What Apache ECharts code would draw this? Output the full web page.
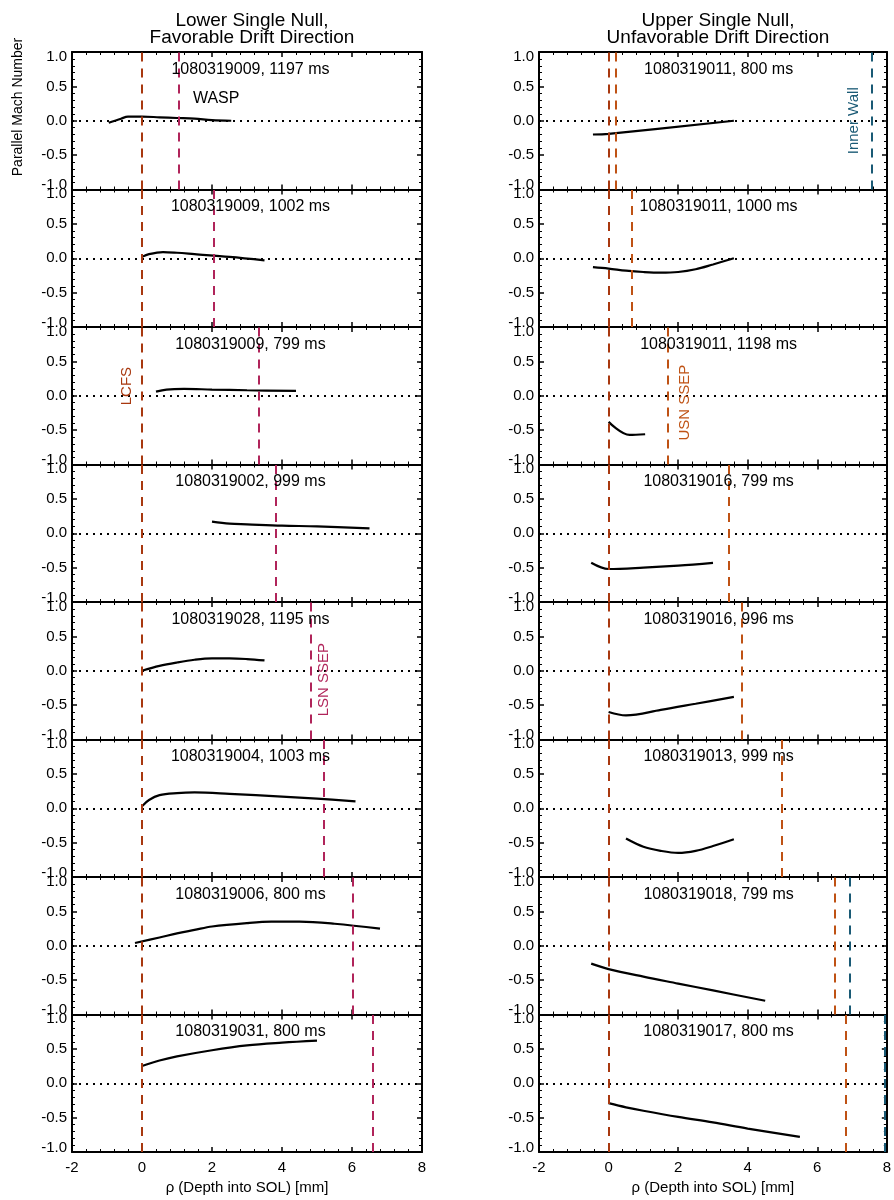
<!DOCTYPE html>
<html><head><meta charset="utf-8">
<script src="https://cdn.jsdelivr.net/npm/echarts@6/dist/echarts.min.js"></script>
<style>html,body{margin:0;padding:0;background:#fff}#c{width:894px;height:1200px}</style>
</head><body><div id="c"></div>
<script>
// ---- tick labels / axis ranges ----
const xTicks = [-2, 0, 2, 4, 6, 8];
const yTicks = [-1.0, -0.5, 0.0, 0.5, 1.0];

// ---- panel labels ----
const leftLabels = ['1080319009, 1197 ms','1080319009, 1002 ms','1080319009, 799 ms','1080319002, 999 ms',
                    '1080319028, 1195 ms','1080319004, 1003 ms','1080319006, 800 ms','1080319031, 800 ms'];
const rightLabels = ['1080319011, 800 ms','1080319011, 1000 ms','1080319011, 1198 ms','1080319016, 799 ms',
                     '1080319016, 996 ms','1080319013, 999 ms','1080319018, 799 ms','1080319017, 800 ms'];

// ---- Mach number profiles [rho (mm), M] ----
const leftCurve1 = [[-0.95,-0.03],[-0.6,0.03],[-0.4,0.06],[0,0.06],[0.5,0.05],[1.0,0.04],[1.5,0.03],[2.0,0.01],[2.55,0.0]];
const leftCurve2 = [[0,0.02],[0.2,0.06],[0.6,0.09],[1.0,0.08],[1.5,0.06],[2.5,0.02],[3.5,-0.03]];
const leftCurve3 = [[0.4,0.06],[0.7,0.09],[1.2,0.1],[2.0,0.09],[3.0,0.08],[4.4,0.07]];
const leftCurve4 = [[2.0,0.17],[2.5,0.14],[3.0,0.13],[4.0,0.11],[5.0,0.1],[6.5,0.07]];
const leftCurve5 = [[0,0.0],[0.5,0.07],[1.0,0.12],[1.5,0.16],[2.0,0.18],[2.5,0.18],[3.0,0.17],[3.5,0.15]];
const leftCurve6 = [[0,0.03],[0.2,0.12],[0.5,0.19],[1.0,0.22],[1.5,0.23],[2.5,0.21],[4.0,0.17],[5.0,0.14],[6.1,0.1]];
const leftCurve7 = [[-0.2,0.04],[0.5,0.12],[1.0,0.18],[1.5,0.23],[2.0,0.28],[3.0,0.33],[3.7,0.35],[4.5,0.35],[5.5,0.32],[6.8,0.25]];
const leftCurve8 = [[0,0.25],[0.5,0.33],[1.0,0.39],[2.0,0.48],[3.0,0.55],[4.0,0.59],[5.0,0.62]];
const rightCurve1 = [[-0.45,-0.2],[0,-0.19],[3.6,0.0]];
const rightCurve2 = [[-0.45,-0.13],[0,-0.15],[0.5,-0.18],[1.0,-0.2],[1.5,-0.21],[2.0,-0.2],[2.5,-0.16],[3.0,-0.09],[3.6,0.0]];
const rightCurve3 = [[0,-0.38],[0.6,-0.57],[1.05,-0.56]];
const rightCurve4 = [[-0.5,-0.43],[0,-0.52],[1.0,-0.5],[2.0,-0.47],[3.0,-0.43]];
const rightCurve5 = [[0,-0.6],[0.5,-0.65],[1.5,-0.57],[2.5,-0.48],[3.6,-0.38]];
const rightCurve6 = [[0.5,-0.44],[1.0,-0.56],[1.5,-0.62],[2.0,-0.65],[2.5,-0.62],[3.0,-0.55],[3.6,-0.45]];
const rightCurve7 = [[-0.5,-0.26],[0,-0.34],[1.0,-0.45],[2.0,-0.55],[3.0,-0.65],[4.5,-0.8]];
const rightCurve8 = [[0,-0.29],[0.5,-0.35],[1.0,-0.4],[2.0,-0.49],[3.0,-0.57],[4.0,-0.66],[5.5,-0.78]];

// ---- reference lines (rho, mm) ----
const lcfsX = 0;
const lsnSsepX = [1.06, 2.06, 3.33, 3.81, 4.81, 5.19, 6.02, 6.58];
const usnSsepX = [0.2, 0.66, 1.69, 3.45, 3.82, 4.97, 6.49, 6.81];
const innerWallX = [7.56, null, null, null, null, null, 6.92, 7.95];

// ---- text annotations [x, y, text] ----
const labelPosLeft = [3.1, 0.75];
const labelPosRight = [3.16, 0.75];
const waspNote = [2.12, 0.32, 'WASP'];
const lcfsNote = [-0.43, 0.14, 'LCFS'];
const lsnNote = [5.2, -0.13, 'LSN SSEP'];
const usnNote = [2.2, -0.1, 'USN SSEP'];
const wallNote = [7.04, 0.0, 'Inner Wall'];

const C_LCFS = '#a8380f', C_LSN = '#b0245a', C_USN = '#bf5214', C_WALL = '#1a5a75';
const FONT = '"Liberation Sans", Arial, Helvetica, sans-serif';

const leftCurves = [leftCurve1,leftCurve2,leftCurve3,leftCurve4,leftCurve5,leftCurve6,leftCurve7,leftCurve8];
const rightCurves = [rightCurve1,rightCurve2,rightCurve3,rightCurve4,rightCurve5,rightCurve6,rightCurve7,rightCurve8];

const TOP0 = 52, PH = 137.5;
const grids = [], xAxes = [], yAxes = [], series = [];

function axisCommon(){
  return {
    axisLine:{show:true,onZero:false,lineStyle:{color:'#000',width:2}},
    axisTick:{show:true,inside:true,length:5,lineStyle:{color:'#000',width:1.5}},
    minorTick:{show:true,splitNumber:5,length:3,lineStyle:{color:'#000',width:1}},
    splitLine:{show:false}, minorSplitLine:{show:false}
  };
}

function addPanel(col, row){
  const gi = grids.length;
  const isLeft = col === 0;
  grids.push({left: isLeft?72:539, width: isLeft?350:348, top: TOP0 + PH*row, height: PH, containLabel:false});
  const last = row === 7;
  xAxes.push(Object.assign(axisCommon(), {
    gridIndex: gi, type:'value', position:'bottom', min:xTicks[0], max:xTicks[xTicks.length-1], interval:2,
    axisLabel:{show:last, fontSize:15, color:'#000', margin:8, fontFamily:FONT, formatter:v=>String(v)},
    name: last ? 'ρ (Depth into SOL) [mm]' : '', nameLocation:'middle', nameGap:28,
    nameTextStyle:{fontSize:15, color:'#000', fontFamily:FONT}
  }));
  xAxes.push(Object.assign(axisCommon(), {
    gridIndex: gi, type:'value', position:'top', min:xTicks[0], max:xTicks[xTicks.length-1], interval:2,
    axisLabel:{show:false}
  }));
  yAxes.push(Object.assign(axisCommon(), {
    gridIndex: gi, type:'value', position:'left', min:yTicks[0], max:yTicks[yTicks.length-1], interval:0.5,
    axisLabel:{show:true, fontSize:15, lineHeight:9, color:'#000', margin:5, fontFamily:FONT, formatter:v=>v.toFixed(1),
      showMinLabel:true, showMaxLabel:true, verticalAlignMinLabel:'bottom', verticalAlignMaxLabel:'top'}
  }));
  yAxes.push(Object.assign(axisCommon(), {
    gridIndex: gi, type:'value', position:'right', min:yTicks[0], max:yTicks[yTicks.length-1], interval:0.5,
    axisLabel:{show:false}
  }));
  const xi = gi*2, yi = gi*2;
  const dash = {type:[9,7], width:2};
  const ml = [{yAxis:0, lineStyle:{type:[2,5], color:'#000', width:2}},
              {xAxis:lcfsX, lineStyle:Object.assign({color:C_LCFS}, dash)}];
  if (isLeft) ml.push({xAxis:lsnSsepX[row], lineStyle:Object.assign({color:C_LSN}, dash)});
  else {
    ml.push({xAxis:usnSsepX[row], lineStyle:Object.assign({color:C_USN}, dash)});
    if (innerWallX[row] != null) ml.push({xAxis:innerWallX[row], lineStyle:Object.assign({color:C_WALL}, dash)});
  }
  series.push({
    type:'line', xAxisIndex:xi, yAxisIndex:yi, data:(isLeft?leftCurves:rightCurves)[row],
    smooth:0.35, symbol:'none', lineStyle:{color:'#000', width:2.2}, animation:false, z:3,
    markLine:{silent:true, symbol:['none','none'], label:{show:false}, animation:false, data:ml}
  });
  // annotations
  const pos = isLeft ? labelPosLeft : labelPosRight;
  const notes = [{value:[pos[0],pos[1]], name:(isLeft?leftLabels:rightLabels)[row],
                  label:{color:'#000', fontSize:16, rotate:0}}];
  function rot(n, color){ notes.push({value:[n[0],n[1]], name:n[2], label:{color:color, fontSize:15, rotate:90}}); }
  if (isLeft && row===0) notes.push({value:[waspNote[0],waspNote[1]], name:waspNote[2], label:{color:'#000', fontSize:16}});
  if (isLeft && row===2) rot(lcfsNote, C_LCFS);
  if (isLeft && row===4) rot(lsnNote, C_LSN);
  if (!isLeft && row===2) rot(usnNote, C_USN);
  if (!isLeft && row===0) rot(wallNote, C_WALL);
  series.push({
    type:'scatter', xAxisIndex:xi, yAxisIndex:yi, data:notes, symbolSize:1,
    itemStyle:{color:'rgba(0,0,0,0)'}, animation:false, silent:true, z:5,
    label:{show:true, position:'inside', formatter:'{b}', fontFamily:FONT, textBorderWidth:0, opacity:1}
  });
}

for (let r=0;r<8;r++) addPanel(0,r);
for (let r=0;r<8;r++) addPanel(1,r);

const chart = echarts.init(document.getElementById('c'), null, {renderer:'canvas'});
chart.setOption({
  backgroundColor:'#fff',
  animation:false,
  textStyle:{fontFamily:FONT},
  title:[
    {text:'Lower Single Null,\nFavorable Drift Direction', left:247, top:7, textAlign:'center',
     textStyle:{fontSize:19, fontWeight:'normal', color:'#000', lineHeight:17, fontFamily:FONT}},
    {text:'Upper Single Null,\nUnfavorable Drift Direction', left:713, top:7, textAlign:'center',
     textStyle:{fontSize:19, fontWeight:'normal', color:'#000', lineHeight:17, fontFamily:FONT}}
  ],
  graphic:[{type:'text', x:18, y:107, rotation:Math.PI/2,
    style:{text:'Parallel Mach Number', fontSize:14, fill:'#000', align:'center', verticalAlign:'middle', fontFamily:FONT}}],
  grid:grids, xAxis:xAxes, yAxis:yAxes, series:series
});
</script></body></html>
